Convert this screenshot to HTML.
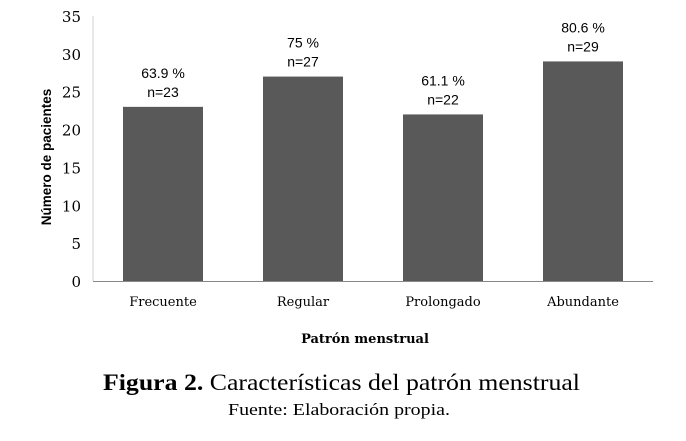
<!DOCTYPE html>
<html><head><meta charset="utf-8"><style>
body{margin:0;background:#fff;width:686px;height:436px;overflow:hidden}
svg text{font-family:"Liberation Sans",sans-serif}
</style></head><body>
<svg id="chart" width="686" height="436" xmlns="http://www.w3.org/2000/svg">
<g id="axes"></g><g id="bars"></g>
<text transform="translate(51,157) rotate(-90)" text-anchor="middle" font-size="13.5" font-weight="bold" fill="#000">Número de pacientes</text>
<text x="365" y="343" text-anchor="middle" font-weight="bold" style="font-family:'DejaVu Serif',serif;font-size:13px">Patrón menstrual</text>
<text x="103" y="390" font-size="23" textLength="477" lengthAdjust="spacingAndGlyphs" style="font-family:'Liberation Serif',serif"><tspan font-weight="bold">Figura 2.</tspan> Características del patrón menstrual</text>
<text x="228" y="415" font-size="17" textLength="222" lengthAdjust="spacingAndGlyphs" style="font-family:'Liberation Serif',serif">Fuente: Elaboración propia.</text>
</svg>
<script>
const categories=["Frecuente","Regular","Prolongado","Abundante"];
const values=[23,27,22,29];
const pctLabels=["63.9 %","75 %","61.1 %","80.6 %"];
const yTicks=[0,5,10,15,20,25,30,35];
const NS="http://www.w3.org/2000/svg";
const x0=93,x1=653,yBase=281,yTop=16,yMax=35;
const y=v=>yBase-(v/yMax)*(yBase-yTop);
const bandW=(x1-x0)/categories.length;
const xc=i=>x0+bandW*(i+0.5);
function mk(t,a,p){const e=document.createElementNS(NS,t);for(const k in a)e.setAttribute(k,a[k]);p.appendChild(e);return e;}
const axes=document.getElementById('axes'),bars=document.getElementById('bars');
let l=mk('line',{x1:x0,y1:yTop,x2:x0,y2:yBase,stroke:'#d0d0d0','stroke-width':1},axes);


l=mk('line',{x1:x0,y1:yBase+0.5,x2:x1,y2:yBase+0.5,stroke:'#888','stroke-width':1},axes);


yTicks.forEach(v=>{const t=mk('text',{x:81,y:y(v)+6,'text-anchor':'end',fill:'#000',style:"font-family:'DejaVu Serif',serif;font-size:15px"},axes);t.textContent=v;

});
categories.forEach((c,i)=>{
const bw=80;
const r=mk('rect',{x:xc(i)-bw/2,y:y(values[i]),width:bw,height:yBase-y(values[i]),fill:'#595959'},bars);


const p=mk('text',{x:xc(i),y:y(values[i])-29,'text-anchor':'middle','font-size':14,fill:'#000'},bars);p.textContent=pctLabels[i];


const n=mk('text',{x:xc(i),y:y(values[i])-10,'text-anchor':'middle','font-size':14,fill:'#000'},bars);n.textContent='n='+values[i];


const t=mk('text',{x:xc(i),y:306,'text-anchor':'middle',fill:'#000',style:"font-family:'DejaVu Serif',serif;font-size:13px"},axes);t.textContent=c;


});
</script>
</body></html>
